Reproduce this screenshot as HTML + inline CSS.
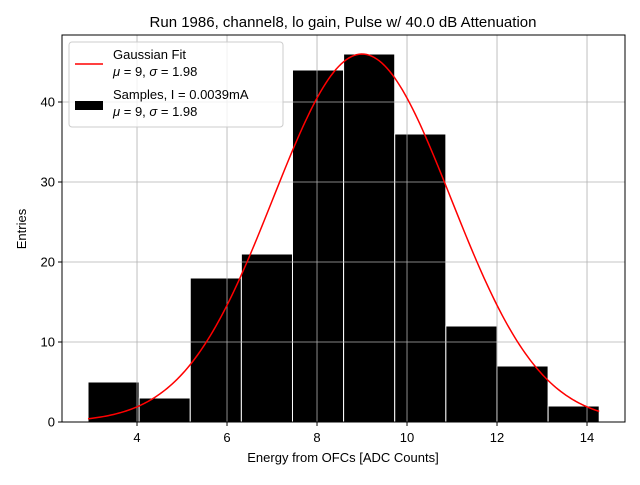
<!DOCTYPE html>
<html><head><meta charset="utf-8"><style>
body{margin:0;background:#fff;}
svg{font-family:"Liberation Sans","DejaVu Sans",sans-serif;}
</style></head><body>
<svg id="c" width="640" height="480">
<rect width="640" height="480" fill="#fff"/>
<text x="343" y="27" text-anchor="middle" font-size="15">Run 1986, channel8, lo gain, Pulse w/ 40.0 dB Attenuation</text>
<g id="bars"></g><g id="grid"></g><g id="fit"></g>
<rect x="62" y="35" width="563" height="387" fill="none" stroke="#000" stroke-width="1"/>
<g id="ticks"></g>
<text x="343" y="462" text-anchor="middle" font-size="13">Energy from OFCs [ADC Counts]</text>
<text transform="translate(26,229) rotate(-90)" text-anchor="middle" font-size="13">Entries</text>
<g>
<rect x="69" y="42" width="214" height="85" rx="3" fill="#fff" fill-opacity="0.8" stroke="#ccc"/>
<line x1="75" y1="64" x2="103" y2="64" stroke="red" stroke-width="1.5"/>
<text x="113" y="59" font-size="13">Gaussian Fit</text>
<text x="113" y="76" font-size="13"><tspan font-style="italic">μ</tspan> = 9, <tspan font-style="italic">σ</tspan> = 1.98</text>
<rect x="75" y="101" width="28" height="9" fill="#000"/>
<text x="113" y="99" font-size="13">Samples, I = 0.0039mA</text>
<text x="113" y="116" font-size="13"><tspan font-style="italic">μ</tspan> = 9, <tspan font-style="italic">σ</tspan> = 1.98</text>
</g>
</svg>
<script>
const binStart = 2.911;
const binWidth = 1.136;
const counts = [5,3,18,21,44,46,36,12,7,2];
const xTicks = [4,6,8,10,12,14];
const yTicks = [0,10,20,30,40];
const fitMu = 9, fitSigma = 1.98, fitAmp = 46;
const NS="http://www.w3.org/2000/svg";
const X=v=>62+(v-2.333)*45;
const Y=v=>422-v*8;
function mk(t,a,p){const e=document.createElementNS(NS,t);for(const k in a)e.setAttribute(k,a[k]);p.appendChild(e);return e;}
const grid=document.getElementById('grid'),ticks=document.getElementById('ticks');
xTicks.forEach(t=>{
 const g=mk('line',{x1:X(t),x2:X(t),y1:35,y2:422,stroke:'#b0b0b0','stroke-width':0.8},grid);
 
 
 mk('line',{x1:X(t),x2:X(t),y1:422,y2:426,stroke:'#000'},ticks);
 const l=mk('text',{x:X(t),y:442,'text-anchor':'middle','font-size':13},ticks);l.textContent=t;
 
 
});
yTicks.forEach(t=>{
 const g=mk('line',{x1:62,x2:625,y1:Y(t),y2:Y(t),stroke:'#b0b0b0','stroke-width':0.8},grid);
 
 
 mk('line',{x1:58,x2:62,y1:Y(t),y2:Y(t),stroke:'#000'},ticks);
 const l=mk('text',{x:55,y:Y(t)+4.5,'text-anchor':'end','font-size':13},ticks);l.textContent=t;
 
 
});
const bars=document.getElementById('bars');
counts.forEach((c,i)=>{
 const x0=X(binStart+i*binWidth),x1=X(binStart+(i+1)*binWidth);
 const r=mk('rect',{x:x0,y:Y(c),width:x1-x0,height:Y(0)-Y(c),fill:'#000',stroke:'#fff','stroke-width':1},bars);
 
 
});
let d='';const a=binStart,b=binStart+counts.length*binWidth;
for(let i=0;i<=200;i++){const v=a+(b-a)*i/200;const y=fitAmp*Math.exp(-((v-fitMu)**2)/(2*fitSigma*fitSigma));d+=(i?'L':'M')+X(v).toFixed(2)+','+Y(y).toFixed(2);}
const p=mk('path',{d:d,fill:'none',stroke:'red','stroke-width':1.5},document.getElementById('fit'));


</script>
</body></html>
